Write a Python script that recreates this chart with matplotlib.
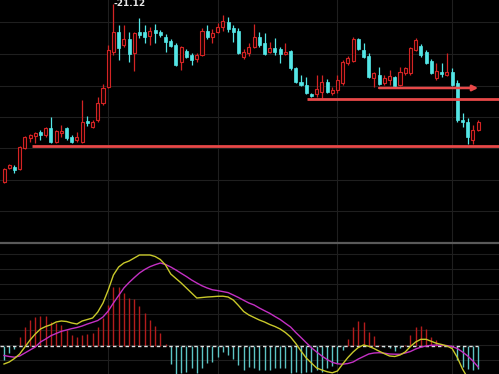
"""Daily candles with support lines and a MACD panel, dark terminal style."""
import numpy as np
import matplotlib
matplotlib.use('Agg')
import matplotlib.pyplot as plt

# price data, one entry per trading day
opens = [14.00, 14.56, 14.60, 14.52, 15.36, 15.76, 15.84, 16.00, 15.88, 16.16,
         15.60, 15.96, 16.16, 15.80, 15.68, 15.60, 16.44, 16.20, 16.48, 17.16,
         17.80, 19.20, 20.00, 19.48, 19.72, 19.16, 20.00, 20.00, 19.84, 20.08,
         20.00, 19.80, 19.64, 19.48, 18.80, 19.24, 19.08, 18.92, 19.08, 20.04,
         19.80, 20.00, 20.20, 20.40, 20.16, 20.04, 19.00, 19.16, 19.40, 19.80,
         19.56, 19.20, 19.36, 19.32, 19.12, 19.24, 18.56, 18.00, 17.88, 17.52,
         17.52, 17.60, 18.00, 17.56, 17.68, 17.96, 18.76, 18.84, 19.72, 19.28,
         19.04, 18.16, 18.28, 17.96, 18.08, 18.20, 17.88, 18.36, 18.36, 19.28,
         19.44, 19.20, 18.84, 18.16, 18.40, 18.28, 18.40, 17.96, 16.48, 16.40,
         15.68, 16.08]
closes = [14.52, 14.68, 14.48, 15.40, 15.80, 15.88, 15.96, 15.88, 16.16, 15.60,
          16.04, 16.04, 15.76, 15.60, 15.80, 16.40, 16.36, 16.40, 17.16, 17.76,
          19.28, 20.00, 19.36, 19.72, 19.12, 19.96, 19.88, 19.80, 20.04, 19.96,
          19.88, 19.60, 19.44, 18.68, 19.40, 19.00, 18.88, 19.08, 20.04, 19.80,
          19.96, 20.20, 20.44, 20.12, 20.00, 19.16, 19.20, 19.40, 19.80, 19.48,
          19.12, 19.36, 19.20, 19.12, 19.20, 18.56, 18.00, 17.88, 17.56, 17.44,
          17.72, 18.00, 17.60, 17.68, 18.08, 18.80, 18.96, 19.72, 19.32, 19.00,
          18.20, 18.36, 17.92, 18.16, 18.24, 17.84, 18.40, 18.56, 19.36, 19.68,
          19.08, 18.76, 18.36, 18.44, 18.32, 18.40, 17.88, 16.48, 16.40, 15.80,
          16.08, 16.40]
highs = [14.56, 14.72, 14.68, 15.44, 15.84, 15.92, 16.00, 16.08, 16.20, 16.60,
         16.08, 16.28, 16.20, 15.88, 16.00, 17.28, 16.64, 16.48, 17.40, 17.92,
         19.48, 21.12, 20.28, 20.28, 20.00, 20.00, 20.56, 20.28, 20.20, 20.32,
         20.08, 19.92, 19.72, 19.56, 19.44, 19.32, 19.16, 19.16, 20.16, 20.28,
         20.12, 20.36, 20.68, 20.60, 20.28, 20.16, 19.32, 19.56, 20.32, 20.00,
         19.96, 19.60, 19.76, 19.40, 19.56, 19.28, 18.60, 18.28, 18.20, 17.56,
         18.28, 18.28, 18.12, 17.80, 18.28, 18.88, 19.04, 19.80, 19.76, 19.56,
         19.16, 18.40, 18.60, 18.28, 18.48, 18.24, 18.60, 18.60, 19.40, 19.76,
         19.52, 19.28, 18.92, 18.76, 18.76, 19.16, 18.56, 18.08, 16.76, 16.56,
         16.28, 16.48]
lows = [13.96, 14.52, 14.36, 14.48, 15.32, 15.60, 15.56, 15.68, 15.80, 15.56,
        15.56, 15.80, 15.68, 15.56, 15.60, 15.56, 16.24, 16.16, 16.40, 17.08,
        17.76, 19.08, 18.88, 19.40, 18.80, 18.44, 19.76, 19.56, 19.48, 19.56,
        19.80, 19.20, 19.40, 18.64, 18.48, 18.96, 18.68, 18.80, 19.04, 19.72,
        19.56, 19.96, 20.04, 20.00, 19.60, 19.12, 18.92, 19.04, 19.36, 19.40,
        19.08, 19.16, 19.08, 18.76, 19.08, 18.48, 17.96, 17.84, 17.52, 17.40,
        17.40, 17.36, 17.56, 17.48, 17.56, 17.88, 18.68, 18.80, 19.28, 18.96,
        18.16, 17.80, 17.88, 17.88, 17.88, 17.80, 17.84, 18.28, 18.28, 19.24,
        19.00, 18.72, 18.32, 18.08, 18.20, 18.24, 17.84, 16.40, 16.20, 15.52,
        15.52, 16.04]

# MACD indicator
dif = [-0.185, -0.165, -0.13, -0.085, -0.015, 0.055, 0.115, 0.165, 0.19, 0.208,
       0.235, 0.245, 0.24, 0.225, 0.215, 0.245, 0.26, 0.275, 0.335, 0.425,
       0.555, 0.705, 0.785, 0.825, 0.845, 0.875, 0.905, 0.905, 0.905, 0.89,
       0.86, 0.805, 0.715, 0.67, 0.625, 0.575, 0.525, 0.475, 0.48, 0.485,
       0.488, 0.492, 0.493, 0.485, 0.455, 0.40, 0.34, 0.305, 0.28, 0.255,
       0.235, 0.21, 0.19, 0.165, 0.13, 0.085, 0.02, -0.055, -0.125, -0.175,
       -0.225, -0.245, -0.262, -0.273, -0.255, -0.185, -0.12, -0.065, -0.02, 0.005,
       -0.008, -0.03, -0.057, -0.082, -0.105, -0.11, -0.095, -0.065, -0.01, 0.035,
       0.062, 0.062, 0.042, 0.022, 0.01, -0.005, -0.03, -0.12, -0.235, -0.325,
       -0.425, -0.525]
dea = [-0.10, -0.11, -0.117, -0.105, -0.075, -0.045, -0.015, 0.035, 0.065, 0.098,
       0.12, 0.142, 0.155, 0.169, 0.18, 0.195, 0.215, 0.232, 0.25, 0.285,
       0.345, 0.425, 0.50, 0.575, 0.63, 0.679, 0.725, 0.76, 0.788, 0.808,
       0.825, 0.81, 0.785, 0.755, 0.722, 0.69, 0.655, 0.625, 0.597, 0.575,
       0.557, 0.549, 0.539, 0.529, 0.505, 0.48, 0.452, 0.425, 0.405, 0.375,
       0.348, 0.322, 0.29, 0.26, 0.222, 0.185, 0.13, 0.08, 0.028, -0.022,
       -0.065, -0.105, -0.14, -0.168, -0.183, -0.187, -0.18, -0.165, -0.135, -0.11,
       -0.085, -0.075, -0.072, -0.077, -0.085, -0.087, -0.088, -0.075, -0.06, -0.035,
       -0.017, -0.005, 0.002, 0.004, 0.003, -0.001, -0.01, -0.03, -0.065, -0.105,
       -0.155, -0.215]
macd_hist = [-0.145, -0.07, -0.035, 0.085, 0.185, 0.255, 0.29, 0.295, 0.295, 0.24,
             0.225, 0.205, 0.155, 0.105, 0.085, 0.105, 0.115, 0.125, 0.185, 0.275,
             0.405, 0.585, 0.585, 0.525, 0.475, 0.465, 0.395, 0.325, 0.255, 0.195,
             0.125, 0.02, -0.185, -0.32, -0.275, -0.26, -0.225, -0.275, -0.225, -0.175,
             -0.165, -0.11, -0.06, -0.095, -0.135, -0.195, -0.245, -0.215, -0.225, -0.245,
             -0.245, -0.245, -0.225, -0.225, -0.225, -0.275, -0.26, -0.275, -0.26, -0.26,
             -0.245, -0.26, -0.225, -0.205, -0.17, -0.04, 0.065, 0.185, 0.25, 0.24,
             0.14, 0.095, 0.01, -0.01, -0.02, -0.05, -0.02, 0.01, 0.105, 0.185,
             0.195, 0.165, 0.09, 0.055, 0.02, 0.01, -0.01, -0.145, -0.21, -0.23,
             -0.245, -0.23]

# drawn levels
high_label = '21.12'
support_price = 15.44
support_from = 5.4
resistance_price = 17.32
resistance_from = 58.2
arrow_price = 17.76
arrow_from, arrow_to = 72, 91
month_starts = [20, 41, 64, 86]

RED = '#d42424'
CYAN = '#54e6e6'
LEVEL = '#e84848'
GRID = '#1f1f1f'
BG = '#000000'


def style_axes(ax):
    ax.set_facecolor(BG)
    for spine in ax.spines.values():
        spine.set_visible(False)
    ax.tick_params(length=0, labelleft=False, labelbottom=False)
    ax.set_xticks(month_starts)
    ax.grid(True, color=GRID, lw=0.8)
    ax.set_axisbelow(True)


def draw_candles(ax):
    n = len(opens)
    x = np.arange(n)
    o = np.array(opens)
    c = np.array(closes)
    up = c >= o
    width = 0.58
    for i in range(n):
        col = RED if up[i] else CYAN
        ax.vlines(x[i], lows[i], highs[i], color=col, lw=0.9, zorder=2)
        bottom = min(o[i], c[i])
        height = max(abs(c[i] - o[i]), 0.03)
        if up[i]:
            ax.bar(x[i], height, width, bottom, facecolor='#1a0000',
                   edgecolor=RED, lw=0.8, zorder=3)
        else:
            ax.bar(x[i], height, width, bottom, facecolor=CYAN,
                   edgecolor=CYAN, lw=0.5, zorder=3)

    top = int(np.argmax(highs))
    ax.text(top, highs[top], '-' + high_label, color='#e8e8e8', fontsize=6.5,
            ha='left', va='center', fontweight='bold')


def draw_levels(ax, xmax):
    ax.hlines(support_price, support_from, xmax, color=LEVEL, lw=2, zorder=4)
    ax.hlines(resistance_price, resistance_from, xmax, color=LEVEL, lw=2,
              zorder=4)
    ax.annotate('', xy=(arrow_to, arrow_price), xytext=(arrow_from, arrow_price),
                arrowprops=dict(arrowstyle='-|>', color=LEVEL, lw=1.8,
                                mutation_scale=8, shrinkA=0, shrinkB=0),
                zorder=4)


def draw_macd(ax):
    x = np.arange(len(macd_hist))
    h = np.array(macd_hist)
    ax.vlines(x[h > 0], 0, h[h > 0], color='#b41c1c', lw=1.0, zorder=2)
    ax.vlines(x[h <= 0], 0, h[h <= 0], color='#5cc4c4', lw=1.0, zorder=2)
    ax.plot([x[0] - 0.8, x[-1]], [0, 0], color='#e0e0e0', lw=1.0,
            ls=(0, (2.5, 2)), zorder=3)
    ax.plot(x, dea, color='#c430c4', lw=1.0, zorder=4)
    ax.plot(x, dif, color='#c8c82a', lw=1.0, zorder=5)


fig = plt.figure(figsize=(4.99, 3.74), dpi=100, facecolor=BG)
xmin, xmax = -0.77, 95.0

price_ax = fig.add_axes([0, 132 / 374, 1, 242 / 374])
style_axes(price_ax)
price_ax.set_yticks([20.40, 19.14, 17.86, 16.60, 15.36, 14.10, 12.84])
draw_candles(price_ax)
draw_levels(price_ax, xmax)
price_ax.set_xlim(xmin, xmax)
price_ax.set_ylim(11.60, 21.28)

macd_ax = fig.add_axes([0, 0, 1, 131 / 374])
style_axes(macd_ax)
macd_ax.set_yticks(np.arange(-0.145, 1.0, 0.152))
macd_ax.spines['top'].set_visible(True)
macd_ax.spines['top'].set_color('#5a5a5a')
macd_ax.spines['top'].set_linewidth(1.6)
draw_macd(macd_ax)
macd_ax.set_xlim(xmin, xmax)
macd_ax.set_ylim(-0.285, 1.025)

fig.savefig('out.png', dpi=100, facecolor=BG)
